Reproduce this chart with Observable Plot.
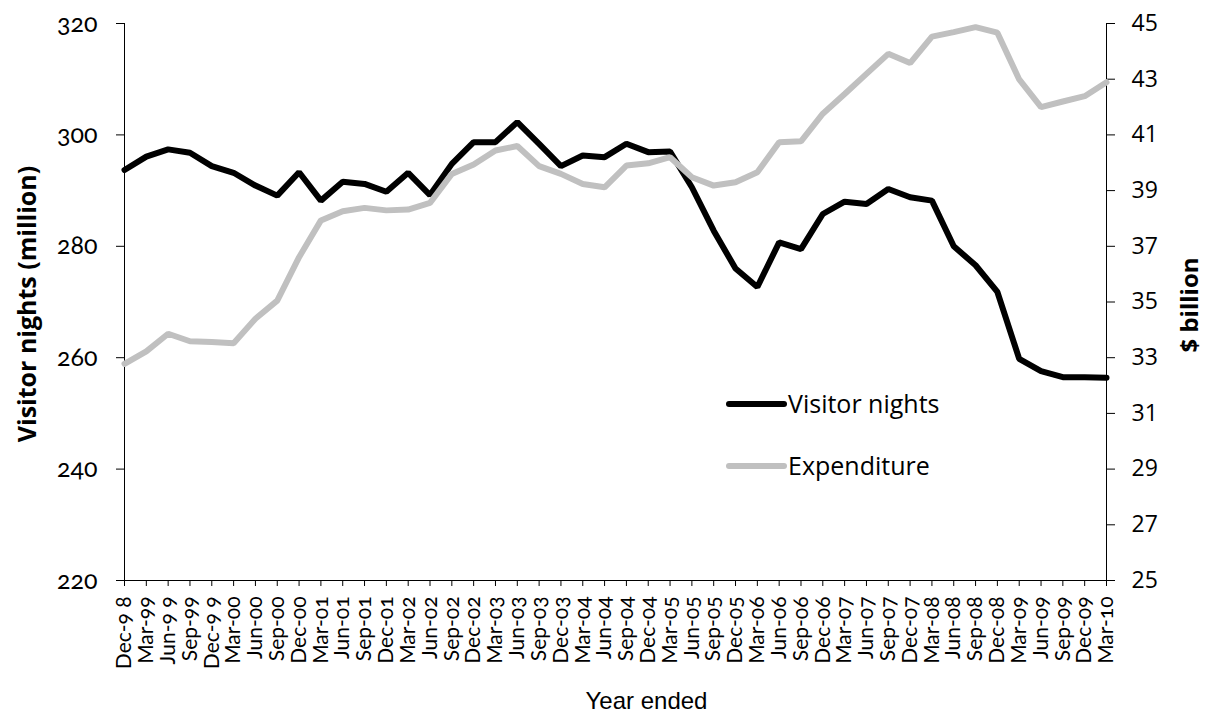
<!DOCTYPE html>
<html>
<head>
<meta charset="utf-8">
<script src="https://cdn.jsdelivr.net/npm/d3@7"></script>
<script src="https://cdn.jsdelivr.net/npm/@observablehq/plot@0.6"></script>
<style>
  html, body { margin: 0; padding: 0; background: #fff; }
  #wrap { position: relative; width: 1205px; height: 726px; }
  #legend { position: absolute; left: 0; top: 0; pointer-events: none; }
</style>
</head>
<body>
<div id="wrap"></div>
<script>
const quarters = ["Dec-9 8","Mar-99","Jun-9 9","Sep-99","Dec-9 9","Mar-00","Jun-00","Sep-00","Dec-00","Mar-01","Jun-01","Sep-01","Dec-01","Mar-02","Jun-02","Sep-02","Dec-02","Mar-03","Jun-03","Sep-03","Dec-03","Mar-04","Jun-04","Sep-04","Dec-04","Mar-05","Jun-05","Sep-05","Dec-05","Mar-06","Jun-06","Sep-06","Dec-06","Mar-07","Jun-07","Sep-07","Dec-07","Mar-08","Jun-08","Sep-08","Dec-08","Mar-09","Jun-09","Sep-09","Dec-09","Mar-10"];

// Visitor nights (million), left axis
const visitorNights = [293.7, 296.1, 297.4, 296.8, 294.4, 293.2, 290.9, 289.1, 293.3, 288.2, 291.6, 291.2, 289.8, 293.2, 289.2, 294.8, 298.7, 298.7, 302.3, 298.4, 294.4, 296.3, 296.0, 298.4, 296.9, 297.0, 290.6, 282.8, 276.0, 272.7, 280.7, 279.5, 285.8, 288.0, 287.6, 290.3, 288.8, 288.2, 280.0, 276.6, 271.8, 259.8, 257.6, 256.5, 256.5, 256.4];

// Expenditure ($ billion), right axis
const expenditure = [32.78, 33.23, 33.86, 33.59, 33.56, 33.52, 34.4, 35.05, 36.61, 37.93, 38.26, 38.38, 38.29, 38.32, 38.56, 39.6, 39.94, 40.44, 40.6, 39.88, 39.6, 39.24, 39.12, 39.9, 39.98, 40.2, 39.48, 39.18, 39.3, 39.66, 40.74, 40.77, 41.76, 42.47, 43.19, 43.91, 43.58, 44.53, 44.69, 44.87, 44.67, 42.99, 42.0, 42.2, 42.39, 42.89];

const leftTicks = [220, 240, 260, 280, 300, 320];
const rightTicks = [25, 27, 29, 31, 33, 35, 37, 39, 41, 43, 45];
const leftDomain = [220, 320];
const rightDomain = [25, 45];

const seriesNames = ["Visitor nights", "Expenditure"];
const seriesColors = ["#000000", "#c0c0c0"];
const axisTitles = {left: "Visitor nights (million)", right: "$ billion", bottom: "Year ended"};

// map right-axis values onto the left scale
const toLeft = v => leftDomain[0] + (v - rightDomain[0]) * (leftDomain[1] - leftDomain[0]) / (rightDomain[1] - rightDomain[0]);
const fromLeft = v => rightDomain[0] + (v - leftDomain[0]) * (rightDomain[1] - rightDomain[0]) / (leftDomain[1] - leftDomain[0]);

const nightsRows = quarters.map((q, i) => ({q, v: visitorNights[i]}));
const expRows = quarters.map((q, i) => ({q, v: toLeft(expenditure[i])}));

const chart = Plot.plot({
  width: 1205,
  height: 726,
  marginTop: 23,
  marginBottom: 146,
  marginLeft: 124,
  marginRight: 99,
  style: {fontFamily: "Lato", background: "#fff", color: "#000", overflow: "visible"},
  x: {type: "point", domain: quarters, padding: 0},
  y: {domain: leftDomain},
  marks: [
    Plot.ruleX([quarters[0], quarters[quarters.length - 1]], {stroke: "#000", strokeWidth: 1}),
    Plot.ruleY([leftDomain[0]], {stroke: "#000", strokeWidth: 1}),
    Plot.axisY({ticks: leftTicks, tickSize: 8, tickPadding: 19, label: null, fontSize: 25, fontFamily: "Lato", fontVariant: "oldstyle-nums", stroke: "#000"}),
    Plot.axisY({anchor: "right", ticks: rightTicks.map(toLeft), tickFormat: d => String(Math.round(fromLeft(d))), tickSize: 8, tickPadding: 17, label: null, fontSize: 23, fontFamily: "Open Sans"}),
    Plot.axisX({tickRotate: -90, tickSize: 6, tickPadding: 10, label: null, fontSize: 21, fontFamily: "Lato", fontVariant: "oldstyle-nums"}),
    Plot.line(nightsRows, {x: "q", y: "v", stroke: seriesColors[0], strokeWidth: 6, strokeLinejoin: "miter", strokeLinecap: "round"}),
    Plot.line(expRows, {x: "q", y: "v", stroke: seriesColors[1], strokeWidth: 6, strokeLinejoin: "miter", strokeLinecap: "round"}),
    Plot.text([axisTitles.left], {frameAnchor: "left", textAnchor: "middle", lineAnchor: "middle", dx: -97, dy: 2, rotate: -90, fontSize: 25, fontWeight: "bold", fontFamily: "Open Sans", text: d => d}),
    Plot.text([axisTitles.right], {frameAnchor: "right", textAnchor: "middle", lineAnchor: "middle", dx: 84, dy: 3, rotate: -90, fontSize: 24, fontWeight: "bold", fontFamily: "Open Sans", text: d => d}),
    Plot.text([axisTitles.bottom], {frameAnchor: "bottom", textAnchor: "middle", lineAnchor: "middle", dx: 31, dy: 121, fontSize: 24, fontFamily: "Liberation Sans", text: d => d})
  ]
});

const wrap = document.getElementById("wrap");
wrap.appendChild(chart);

// legend overlay
const legend = d3.create("svg")
  .attr("id", "legend")
  .attr("width", 1205)
  .attr("height", 726);
const legendRows = [{y: 404}, {y: 466}];
seriesNames.forEach((name, i) => {
  const g = legend.append("g").attr("transform", `translate(729,${legendRows[i].y})`);
  g.append("line").attr("x1", 0).attr("x2", 55).attr("y1", 0).attr("y2", 0)
    .attr("stroke", seriesColors[i]).attr("stroke-width", 6).attr("stroke-linecap", "round");
  g.append("text").attr("x", 59).attr("y", 0).attr("dy", "0.35em")
    .attr("font-family", "Open Sans").attr("font-size", 25).attr("fill", "#000").text(name);
});
wrap.appendChild(legend.node());
</script>
</body>
</html>
